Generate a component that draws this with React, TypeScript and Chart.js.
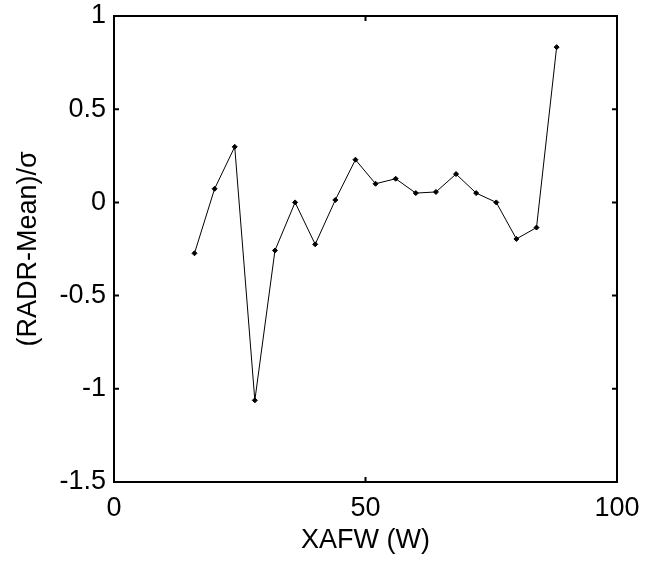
import React, { useEffect, useRef } from "react";
import { Chart, registerables } from "chart.js";

Chart.register(...registerables);

const xafw = [16, 20, 24, 28, 32, 36, 40, 44, 48, 52, 56, 60, 64, 68, 72, 76, 80, 84, 88];
const radrNorm = [
  -0.273, 0.073, 0.298, -1.062, -0.258, 0.0, -0.225, 0.013, 0.229, 0.1, 0.127,
  0.05, 0.056, 0.152, 0.05, 0.0, -0.196, -0.135, 0.833,
];
const xTicks = [0, 50, 100];
const yTicks = [-1.5, -1, -0.5, 0, 0.5, 1];
const xTitle = "XAFW (W)";
const yTitle = "(RADR-Mean)/σ";

const FONT = "'Liberation Sans', Arial, Helvetica, sans-serif";

const framePlugin = {
  id: "matlabFrame",
  afterDatasetsDraw(chart: any) {
    const { ctx, chartArea } = chart;
    const { left, right, top, bottom } = chartArea;
    const xs = chart.scales.x;
    const ys = chart.scales.y;
    const tl = 5;
    ctx.save();
    ctx.strokeStyle = "#000";
    ctx.lineWidth = 2;
    ctx.strokeRect(left, top, right - left, bottom - top);
    ctx.beginPath();
    for (const v of xTicks) {
      const px = xs.getPixelForValue(v);
      ctx.moveTo(px, bottom);
      ctx.lineTo(px, bottom - tl);
      ctx.moveTo(px, top);
      ctx.lineTo(px, top + tl);
    }
    for (const v of yTicks) {
      const py = ys.getPixelForValue(v);
      ctx.moveTo(left, py);
      ctx.lineTo(left + tl, py);
      ctx.moveTo(right, py);
      ctx.lineTo(right - tl, py);
    }
    ctx.stroke();
    ctx.restore();
  },
};

export default function App() {
  const ref = useRef<HTMLCanvasElement | null>(null);

  useEffect(() => {
    if (!ref.current) return;
    const chart = new Chart(ref.current, {
      type: "line",
      data: {
        datasets: [
          {
            data: xafw.map((x, i) => ({ x, y: radrNorm[i] })),
            borderColor: "#000",
            borderWidth: 1,
            backgroundColor: "#000",
            pointStyle: "rectRot",
            pointRadius: 2.5,
            pointBackgroundColor: "#000",
            pointBorderColor: "#000",
            pointBorderWidth: 1,
            tension: 0,
            fill: false,
          },
        ],
      },
      options: {
        responsive: false,
        animation: false,
        devicePixelRatio: 1,
        layout: { padding: { left: 0, top: 16, right: 29, bottom: 0 } },
        plugins: {
          legend: { display: false },
          tooltip: { enabled: false },
        },
        scales: {
          x: {
            type: "linear",
            min: 0,
            max: 100,
            afterBuildTicks: (scale: any) => {
              scale.ticks = xTicks.map((v) => ({ value: v }));
            },
            afterFit: (scale: any) => {
              scale.height = 79;
              scale.paddingLeft = 0;
              scale.paddingRight = 0;
            },
            grid: { display: false, drawTicks: false },
            border: { display: false },
            ticks: {
              color: "#000",
              font: { family: FONT, size: 27 },
              padding: 10,
              maxRotation: 0,
              autoSkip: false,
            },
            title: {
              display: true,
              text: xTitle,
              color: "#000",
              font: { family: FONT, size: 27 },
              padding: { top: 0, bottom: 4 },
            },
          },
          y: {
            type: "linear",
            min: -1.5,
            max: 1,
            afterBuildTicks: (scale: any) => {
              scale.ticks = yTicks.map((v) => ({ value: v }));
            },
            afterFit: (scale: any) => {
              scale.width = 114;
              scale.paddingTop = 0;
              scale.paddingBottom = 0;
            },
            grid: { display: false, drawTicks: false },
            border: { display: false },
            ticks: {
              color: "#000",
              font: { family: FONT, size: 27 },
              padding: 8,
              autoSkip: false,
              callback: (v: any) => String(v),
            },
            title: {
              display: true,
              text: yTitle,
              color: "#000",
              font: { family: FONT, size: 27 },
              padding: { top: 12, bottom: 0 },
            },
          },
        },
      },
      plugins: [framePlugin],
    });
    return () => chart.destroy();
  }, []);

  return (
    <div style={{ position: "absolute", left: 0, top: 0, width: 646, height: 561, background: "#fff" }}>
      <canvas ref={ref} width={646} height={561} style={{ display: "block" }} />
    </div>
  );
}
